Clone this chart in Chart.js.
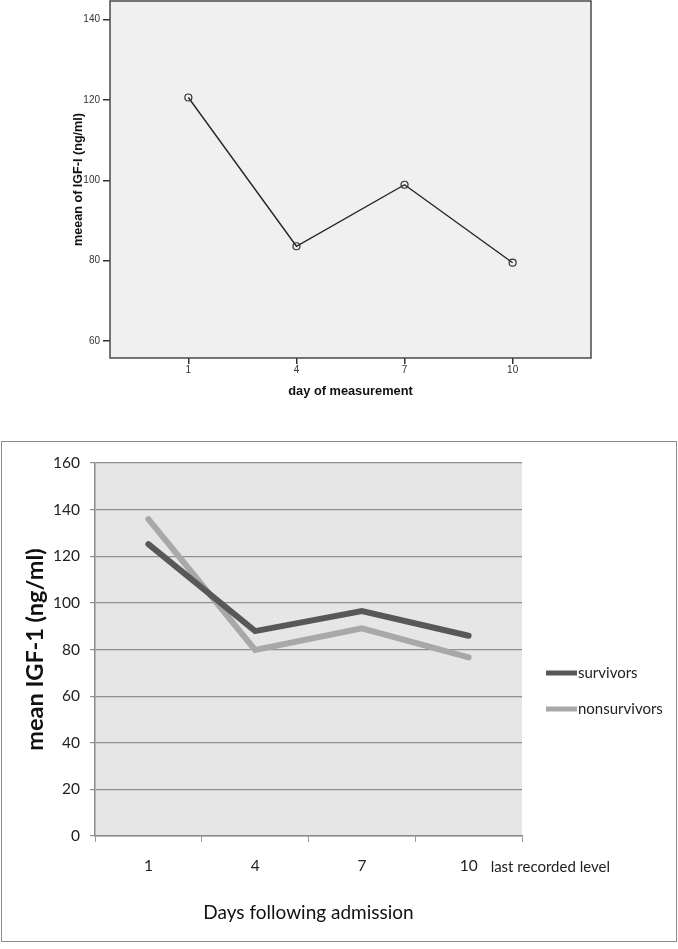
<!DOCTYPE html>
<html>
<head>
<meta charset="utf-8">
<script src="https://cdn.jsdelivr.net/npm/chart.js@4.4.0/dist/chart.umd.min.js"></script>
<style>
    body { margin: 0; background: #fff; width: 678px; height: 949px; position: relative; overflow: hidden; }
    #topWrap { position: absolute; left: 0; top: 0; width: 678px; height: 410px; }
    #bottomWrap { position: absolute; left: 0; top: 420px; width: 678px; height: 529px; }
    #frame { position: absolute; left: 1px; top: 441px; width: 674px; height: 499px; border: 1px solid #8c8c8c; }
</style>
</head>
<body>
<div id="frame"></div>
<div id="topWrap"><canvas id="spssChart" width="678" height="410"></canvas></div>
<div id="bottomWrap"><canvas id="excelChart" width="678" height="529"></canvas></div>
<script>
// top chart (SPSS style)
const measureDays = [1, 4, 7, 10];
const meanIgf = [120.6, 83.6, 98.9, 79.5];
const topYTicks = [60, 80, 100, 120, 140];

// bottom chart (Excel style)
const dayLabels = ['1', '4', '7', '10'];
const survivors = [125.2, 87.9, 96.5, 85.9];
const nonsurvivors = [135.9, 79.8, 89.1, 76.6];
const bottomYTicks = [0, 20, 40, 60, 80, 100, 120, 140, 160];

// stop chart.js from reserving room for label overhang
function noOverhang(s) {
    s.paddingTop = 0;
    s.paddingBottom = 0;
    s.paddingLeft = 0;
    s.paddingRight = 0;
}

// fill and frame the plot box
const plotBoxPlugin = {
    id: 'plotBox',
    beforeDraw(chart, args, opts) {
        const a = chart.chartArea;
        const ctx = chart.ctx;
        ctx.save();
        ctx.fillStyle = opts.fill;
        ctx.fillRect(a.left, a.top, a.right - a.left, a.bottom - a.top);
        ctx.restore();
    },
    afterDraw(chart, args, opts) {
        if (!opts.stroke) return;
        const a = chart.chartArea;
        const ctx = chart.ctx;
        ctx.save();
        ctx.strokeStyle = opts.stroke;
        ctx.lineWidth = 1.5;
        ctx.strokeRect(a.left, a.top, a.right - a.left, a.bottom - a.top);
        ctx.restore();
    }
};

// legend and the extra axis note for the Excel chart
const excelExtras = {
    id: 'excelExtras',
    afterDraw(chart) {
        const ctx = chart.ctx;
        const x = chart.scales.x;
        ctx.save();
        ctx.font = '15px Lato';
        ctx.fillStyle = '#222';
        ctx.textBaseline = 'middle';
        ctx.textAlign = 'left';
        ctx.fillText('last recorded level', x.getPixelForValue(3) + 22, 447);

        chart.data.datasets.forEach((ds, i) => {
            const y = 253 + i * 36;
            ctx.strokeStyle = ds.borderColor;
            ctx.lineWidth = 5;
            ctx.beginPath();
            ctx.moveTo(546, y);
            ctx.lineTo(577, y);
            ctx.stroke();
            ctx.fillText(ds.label, 578, y);
        });
        ctx.restore();
    }
};

new Chart(document.getElementById('spssChart'), {
    type: 'line',
    data: {
        datasets: [{
            data: measureDays.map((d, i) => ({ x: d, y: meanIgf[i] })),
            borderColor: '#262626',
            borderWidth: 1.4,
            pointRadius: 3.5,
            pointBorderWidth: 1.2,
            pointBorderColor: '#333',
            pointBackgroundColor: 'rgba(0,0,0,0)',
            tension: 0
        }]
    },
    options: {
        responsive: false,
        animation: false,
        layout: { autoPadding: false, padding: { top: 1, right: 87, left: 0, bottom: 0 } },
        plugins: {
            legend: { display: false },
            tooltip: { enabled: false },
            plotBox: { fill: '#f0f0f0', stroke: '#4a4a4a' }
        },
        scales: {
            x: {
                type: 'linear',
                min: -1.175,
                max: 12.175,
                afterBuildTicks: s => { s.ticks = measureDays.map(v => ({ value: v })); },
                afterFit: s => { s.height = 52; noOverhang(s); },
                grid: { drawOnChartArea: false, tickLength: 6, tickColor: '#333', lineWidth: 1.5 },
                border: { display: false },
                ticks: { padding: 0, color: '#333', font: { family: 'Liberation Sans', size: 10 } },
                title: {
                    display: true,
                    text: 'day of measurement',
                    color: '#111',
                    font: { family: 'Liberation Sans', size: 12.8, weight: 'bold' },
                    padding: { top: 0, bottom: 11 }
                }
            },
            y: {
                min: 55.8,
                max: 144.6,
                afterBuildTicks: s => { s.ticks = topYTicks.map(v => ({ value: v })); },
                afterFit: s => { s.width = 110; noOverhang(s); },
                grid: { drawOnChartArea: false, tickLength: 7, tickColor: '#333', lineWidth: 1.5 },
                border: { display: false },
                ticks: { padding: 3, color: '#333', font: { family: 'Liberation Sans', size: 10 } },
                title: {
                    display: true,
                    text: 'meean of IGF-I (ng/ml)',
                    color: '#111',
                    font: { family: 'Liberation Sans', size: 12.6, weight: 'bold' },
                    padding: { top: 71, bottom: 0 }
                }
            }
        }
    },
    plugins: [plotBoxPlugin]
});

new Chart(document.getElementById('excelChart'), {
    type: 'line',
    data: {
        labels: dayLabels,
        datasets: [{
            label: 'survivors',
            data: survivors,
            borderColor: '#585858',
            borderWidth: 6,
            borderCapStyle: 'round',
            pointRadius: 0,
            tension: 0
        }, {
            label: 'nonsurvivors',
            data: nonsurvivors,
            borderColor: '#a8a8a8',
            borderWidth: 6,
            borderCapStyle: 'round',
            pointRadius: 0,
            tension: 0
        }]
    },
    options: {
        responsive: false,
        animation: false,
        layout: { padding: { top: 43, right: 156, left: 0, bottom: 0 } },
        plugins: {
            legend: { display: false },
            tooltip: { enabled: false },
            plotBox: { fill: '#e6e6e6' }
        },
        scales: {
            x: {
                type: 'category',
                offset: true,
                afterFit: s => { s.height = 113; noOverhang(s); },
                grid: { offset: true, drawOnChartArea: false, tickLength: 6, tickColor: '#9a9a9a' },
                border: { display: true, color: '#8a8a8a', width: 1.5 },
                ticks: { padding: 15, color: '#222', font: { family: 'Lato', size: 15.5 } },
                title: {
                    display: true,
                    text: 'Days following admission',
                    color: '#111',
                    font: { family: 'Lato', size: 19 },
                    padding: { top: 0, bottom: 25 }
                }
            },
            y: {
                min: 0,
                max: 160,
                afterBuildTicks: s => { s.ticks = bottomYTicks.map(v => ({ value: v })); },
                afterFit: s => { s.width = 95; noOverhang(s); },
                grid: { color: '#8f8f8f', lineWidth: 1.2, tickLength: 5, tickColor: '#8f8f8f' },
                border: { display: true, color: '#8a8a8a', width: 1.5 },
                ticks: { padding: 10, color: '#222', font: { family: 'Lato', size: 15.5 } },
                title: {
                    display: true,
                    text: 'mean IGF-1 (ng/ml)',
                    color: '#111',
                    font: { family: 'Lato', size: 23.5, weight: 'bold' },
                    padding: { top: 21, bottom: 0 }
                }
            }
        }
    },
    plugins: [plotBoxPlugin, excelExtras]
});
</script>
</body>
</html>
